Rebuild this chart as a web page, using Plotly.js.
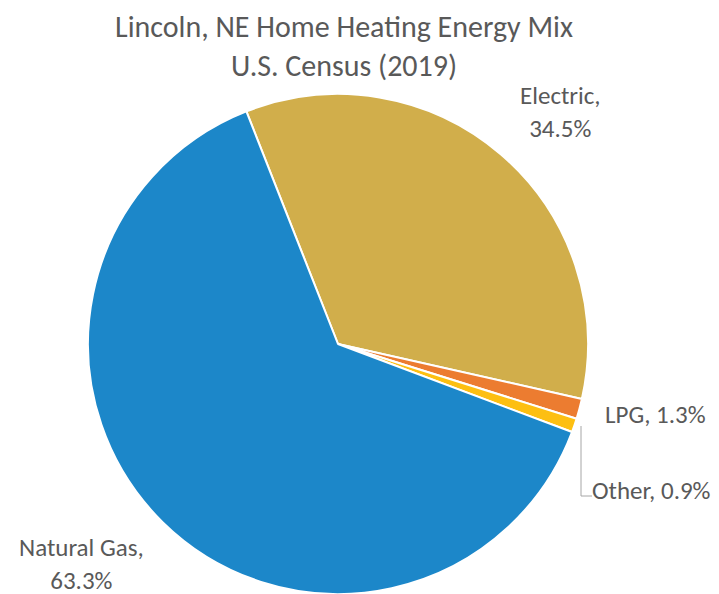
<!DOCTYPE html>
<html>
<head>
<meta charset="utf-8">
<script src="https://cdn.plot.ly/plotly-3.0.1.min.js"></script>
<style>html,body{margin:0;padding:0;background:#fff}#chart{width:719px;height:594px}</style>
</head>
<body>
<div id="chart"></div>
<script>
const categories = ["Electric", "LPG", "Other", "Natural Gas"];
const shares = [34.5, 1.3, 0.9, 63.3];
const sliceColors = ["#D1AE4B", "#EC7C30", "#FDBF12", "#1C87C9"];
const chartTitle = "Lincoln, NE Home Heating Energy Mix<br>U.S. Census (2019)";

const W = 719, H = 594;
// label anchor positions in pixels (center x, center y) and line-break choice
const labelPos = [
  {x: 560, y: 112, br: true},
  {x: 655, y: 414, br: false},
  {x: 651, y: 490, br: false},
  {x: 81,  y: 564, br: true}
];

const annotations = categories.map((c, i) => ({
  xref: "paper", yref: "paper",
  x: labelPos[i].x / W, y: 1 - labelPos[i].y / H,
  xanchor: "center", yanchor: "middle",
  text: c + "," + (labelPos[i].br ? "<br>" : " ") + shares[i].toFixed(1) + "%",
  showarrow: false,
  font: {family: "Carlito, Calibri, Lato, sans-serif", size: 25, color: "#595959"}
}));

const trace = {
  type: "pie",
  labels: categories,
  values: shares,
  sort: false,
  direction: "clockwise",
  rotation: -21.5,
  textinfo: "none",
  hoverinfo: "label+percent",
  marker: {colors: sliceColors, line: {color: "#ffffff", width: 2}},
  domain: {x: [88 / W, 588 / W], y: [0, 500 / H]},
  showlegend: false
};

const px = (x) => x / W, py = (y) => 1 - y / H;
const layout = {
  width: W, height: H,
  margin: {l: 0, r: 0, t: 0, b: 0},
  paper_bgcolor: "#ffffff",
  title: {
    text: chartTitle,
    font: {family: "Carlito, Calibri, Lato, sans-serif", size: 30, color: "#595959"},
    x: 344 / W, xanchor: "center",
    y: 1 - 37 / H, yanchor: "middle"
  },
  annotations: annotations,
  shapes: [{
    type: "path", xref: "paper", yref: "paper",
    path: "M " + px(581) + "," + py(426) + " L " + px(581) + "," + py(496) + " L " + px(592) + "," + py(496),
    line: {color: "#A6A6A6", width: 1}
  }]
};

Plotly.newPlot("chart", [trace], layout, {displayModeBar: false, staticPlot: true});
</script>
</body>
</html>
